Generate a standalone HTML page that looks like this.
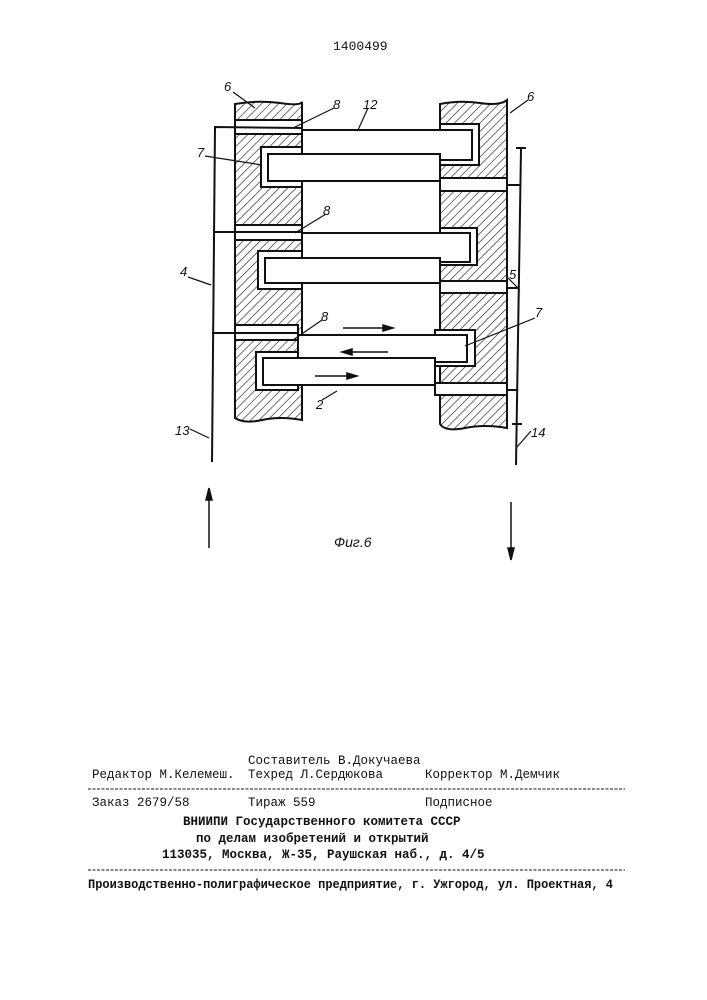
<!DOCTYPE html>
<html><head><meta charset="utf-8"><style>
html,body{margin:0;padding:0;background:#fff;}
svg{display:block;}
.t{font-family:"Liberation Mono","DejaVu Sans Mono",monospace;font-size:12.5px;fill:#111;}
.b{font-weight:bold;}
.l{font-family:"Liberation Sans",sans-serif;font-style:italic;font-size:13px;fill:#111;}
</style></head><body>
<svg width="707" height="1000" viewBox="0 0 707 1000" xmlns="http://www.w3.org/2000/svg">
<defs>
<pattern id="h" patternUnits="userSpaceOnUse" width="6" height="6" patternTransform="rotate(45)">
<line x1="0" y1="0" x2="0" y2="6" stroke="#222" stroke-width="1.3"/>
</pattern>
</defs>
<text x="333" y="50" class="t" style="font-size:13px">1400499</text>

<path d="M235 104 Q260 100 280 103 T302 102 L302 420 Q280 416 262 420 T235 418 Z" fill="url(#h)" stroke="#111" stroke-width="2"/>
<path d="M440 104 Q460 100 480 103 T507 100 L507 428 Q485 424 465 428 T440 424 Z" fill="url(#h)" stroke="#111" stroke-width="2"/>

<g stroke="#111" stroke-width="2" fill="#fff">
<rect x="235" y="120" width="67" height="14"/>
<rect x="440" y="124" width="39" height="41"/>
<rect x="302" y="130" width="170" height="30"/>
<rect x="261" y="147" width="41" height="40"/>
<rect x="268" y="154" width="172" height="27"/>
<rect x="440" y="178" width="67" height="13"/>
<rect x="235" y="225" width="67" height="15"/>
<rect x="440" y="228" width="37" height="37"/>
<rect x="302" y="233" width="168" height="29"/>
<rect x="258" y="251" width="44" height="38"/>
<rect x="265" y="258" width="175" height="25"/>
<rect x="440" y="281" width="67" height="12"/>
<rect x="235" y="325" width="63" height="15"/>
<rect x="435" y="330" width="40" height="36"/>
<rect x="298" y="335" width="169" height="27"/>
<rect x="256" y="352" width="42" height="38"/>
<rect x="263" y="358" width="172" height="27"/>
<rect x="435" y="383" width="72" height="12"/>
</g>

<g stroke="#111" stroke-width="2" fill="none">
<polyline points="302,128 215,127 212,462"/>
<line x1="213" y1="232" x2="302" y2="232"/>
<line x1="212" y1="333" x2="298" y2="333"/>
<polyline points="507,185 521,185"/>
<line x1="521" y1="149" x2="516" y2="465"/>
<line x1="516" y1="148" x2="526" y2="148"/>
<line x1="512" y1="424" x2="522" y2="424"/>
<line x1="507" y1="288" x2="519" y2="288"/>
<line x1="507" y1="390" x2="517" y2="390"/>
</g>

<g stroke="#111" stroke-width="1.5" fill="#111">
<line x1="343" y1="328" x2="388" y2="328"/><polygon points="393,328 383,325 383,331"/>
<line x1="348" y1="352" x2="388" y2="352"/><polygon points="342,352 352,349 352,355"/>
<line x1="315" y1="376" x2="352" y2="376"/><polygon points="357,376 347,373 347,379"/>
<line x1="209" y1="548" x2="209" y2="494"/><polygon points="209,488 206,500 212,500"/>
<line x1="511" y1="502" x2="511" y2="553"/><polygon points="511,560 508,548 514,548"/>
</g>

<g stroke="#111" stroke-width="1.2" fill="none">
<line x1="233" y1="92" x2="255" y2="108"/>
<line x1="334" y1="108" x2="293" y2="128"/>
<line x1="368" y1="108" x2="358" y2="130"/>
<line x1="528" y1="100" x2="510" y2="113"/>
<line x1="205" y1="156" x2="262" y2="165"/>
<line x1="326" y1="214" x2="295" y2="233"/>
<line x1="188" y1="277" x2="211" y2="285"/>
<line x1="508" y1="278" x2="520" y2="290"/>
<line x1="322" y1="320" x2="293" y2="340"/>
<line x1="535" y1="318" x2="465" y2="346"/>
<line x1="322" y1="400" x2="337" y2="391"/>
<line x1="190" y1="429" x2="209" y2="438"/>
<line x1="531" y1="431" x2="517" y2="447"/>
</g>
<g class="l">
<text x="224" y="91">6</text>
<text x="333" y="109">8</text>
<text x="363" y="109">12</text>
<text x="527" y="101">6</text>
<text x="197" y="157">7</text>
<text x="323" y="215">8</text>
<text x="180" y="276">4</text>
<text x="509" y="279">5</text>
<text x="321" y="321">8</text>
<text x="535" y="317">7</text>
<text x="316" y="409">2</text>
<text x="175" y="435">13</text>
<text x="531" y="437">14</text>
<text x="334" y="547" style="font-size:14px">Фиг.6</text>
</g>

<text x="248" y="764" class="t">Составитель В.Докучаева</text>
<text x="92" y="778" class="t">Редактор М.Келемеш.</text>
<text x="248" y="778" class="t">Техред Л.Сердюкова</text>
<text x="425" y="778" class="t">Корректор М.Демчик</text>
<line x1="88" y1="789" x2="625" y2="789" stroke="#111" stroke-width="1" stroke-dasharray="3,1.5"/>
<text x="92" y="806" class="t">Заказ 2679/58</text>
<text x="248" y="806" class="t">Тираж 559</text>
<text x="425" y="806" class="t">Подписное</text>
<text x="183" y="825" class="t b">ВНИИПИ Государственного комитета СССР</text>
<text x="196" y="842" class="t b">по делам изобретений и открытий</text>
<text x="162" y="858" class="t b">113035, Москва, Ж-35, Раушская наб., д. 4/5</text>
<line x1="88" y1="870" x2="625" y2="870" stroke="#111" stroke-width="1" stroke-dasharray="3,1.5"/>
<text x="88" y="888" class="t b" textLength="525" lengthAdjust="spacingAndGlyphs">Производственно-полиграфическое предприятие, г. Ужгород, ул. Проектная, 4</text>
</svg>
</body></html>
